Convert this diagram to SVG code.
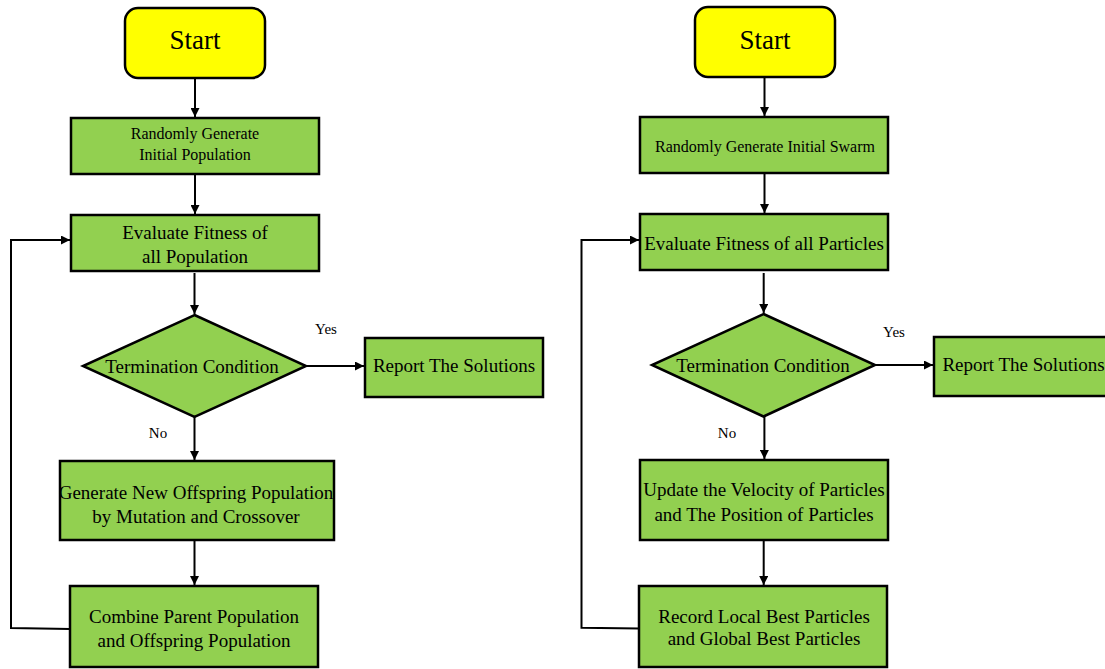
<svg xmlns="http://www.w3.org/2000/svg" width="1105" height="669" viewBox="0 0 1105 669">
<style>
  .start{fill:#FFFF00;stroke:#000;stroke-width:2.5}
  .box{fill:#92D050;stroke:#000;stroke-width:2.5}
  .t{font-family:"Liberation Serif","Times New Roman",serif;fill:#000;text-anchor:middle;dominant-baseline:central}
  .big{font-size:27px}
  .md{font-size:19px}
  .sm{font-size:16px}
  .lbl{font-size:15px}
  .c{fill:none;stroke:#000;stroke-width:2}
</style>
<defs>
  <marker id="ah" viewBox="0 0 10 10" refX="10" refY="5" markerWidth="4.5" markerHeight="4.5" orient="auto" markerUnits="strokeWidth">
    <path d="M0,0 L10,5 L0,10 z" fill="#000"/>
  </marker>
</defs>
<rect width="1105" height="669" fill="#fff"/>

<g id="connectors">
  <!-- left -->
  <path class="c" d="M195,78 V117" marker-end="url(#ah)"/>
  <path class="c" d="M195,175 V214" marker-end="url(#ah)"/>
  <path class="c" d="M194.5,273 V314" marker-end="url(#ah)"/>
  <path class="c" d="M306,366 H364" marker-end="url(#ah)"/>
  <path class="c" d="M194.5,417 V460" marker-end="url(#ah)"/>
  <path class="c" d="M194.5,541 V585" marker-end="url(#ah)"/>
  <path class="c" d="M70,629 L11,628 V240 H70" marker-end="url(#ah)"/>
  <!-- right -->
  <path class="c" d="M764.5,78 V116" marker-end="url(#ah)"/>
  <path class="c" d="M764.5,174 V213" marker-end="url(#ah)"/>
  <path class="c" d="M763.7,273 V313" marker-end="url(#ah)"/>
  <path class="c" d="M875,365 H933" marker-end="url(#ah)"/>
  <path class="c" d="M764.4,417 V459" marker-end="url(#ah)"/>
  <path class="c" d="M763.7,541 V585" marker-end="url(#ah)"/>
  <path class="c" d="M639,628.5 L581.5,627.7 V240 H639" marker-end="url(#ah)"/>
</g>

<!-- Left flowchart -->
<g id="L-start">
  <rect class="start" x="125" y="8" width="140" height="70" rx="13"/>
  <text class="t big" x="195" y="40">Start</text>
</g>
<g id="L-init">
  <rect class="box" x="71" y="118" width="248" height="56"/>
  <text class="t sm" x="195" y="133">Randomly Generate</text>
  <text class="t sm" x="195" y="154">Initial Population</text>
</g>
<g id="L-eval">
  <rect class="box" x="71" y="215" width="248" height="56"/>
  <text class="t md" x="195" y="232.5">Evaluate Fitness of</text>
  <text class="t md" x="195" y="256.5">all Population</text>
</g>
<g id="L-term">
  <polygon class="box" points="194.5,315 306,366 194.5,417 83,366"/>
  <text class="t md" x="192" y="366">Termination Condition</text>
</g>
<g id="L-yes">
  <text class="t lbl" x="326" y="329">Yes</text>
</g>
<g id="L-report">
  <rect class="box" x="365" y="338" width="178" height="59"/>
  <text class="t md" x="454" y="365.5">Report The Solutions</text>
</g>
<g id="L-no">
  <text class="t lbl" x="158" y="433">No</text>
</g>
<g id="L-gen">
  <rect class="box" x="60" y="461" width="274" height="79"/>
  <text class="t md" x="196" y="492.5">Generate New Offspring Population</text>
  <text class="t md" x="196" y="516">by Mutation and Crossover</text>
</g>
<g id="L-comb">
  <rect class="box" x="70" y="586" width="248" height="81"/>
  <text class="t md" x="194" y="616">Combine Parent Population</text>
  <text class="t md" x="194" y="640.5">and Offspring Population</text>
</g>

<!-- Right flowchart -->
<g id="R-start">
  <rect class="start" x="695" y="7" width="140" height="70" rx="13"/>
  <text class="t big" x="765" y="40">Start</text>
</g>
<g id="R-init">
  <rect class="box" x="640" y="117" width="248" height="56"/>
  <text class="t sm" x="765" y="146.5">Randomly Generate Initial Swarm</text>
</g>
<g id="R-eval">
  <rect class="box" x="640" y="214" width="248" height="56"/>
  <text class="t md" x="764" y="243">Evaluate Fitness of all Particles</text>
</g>
<g id="R-term">
  <polygon class="box" points="763.5,314 875,365 763.5,416.5 652,365"/>
  <text class="t md" x="763" y="365">Termination Condition</text>
</g>
<g id="R-yes">
  <text class="t lbl" x="894" y="331.5">Yes</text>
</g>
<g id="R-report">
  <rect class="box" x="934" y="337" width="180" height="59"/>
  <text class="t md" x="1023.5" y="364">Report The Solutions</text>
</g>
<g id="R-no">
  <text class="t lbl" x="727" y="432.5">No</text>
</g>
<g id="R-upd">
  <rect class="box" x="640" y="460" width="248" height="80"/>
  <text class="t md" x="764" y="489.5">Update the Velocity of Particles</text>
  <text class="t md" x="764" y="514">and The Position of Particles</text>
</g>
<g id="R-rec">
  <rect class="box" x="639" y="586" width="248" height="81"/>
  <text class="t md" x="764" y="616">Record Local Best Particles</text>
  <text class="t md" x="764" y="638.5">and Global Best Particles</text>
</g>
</svg>
